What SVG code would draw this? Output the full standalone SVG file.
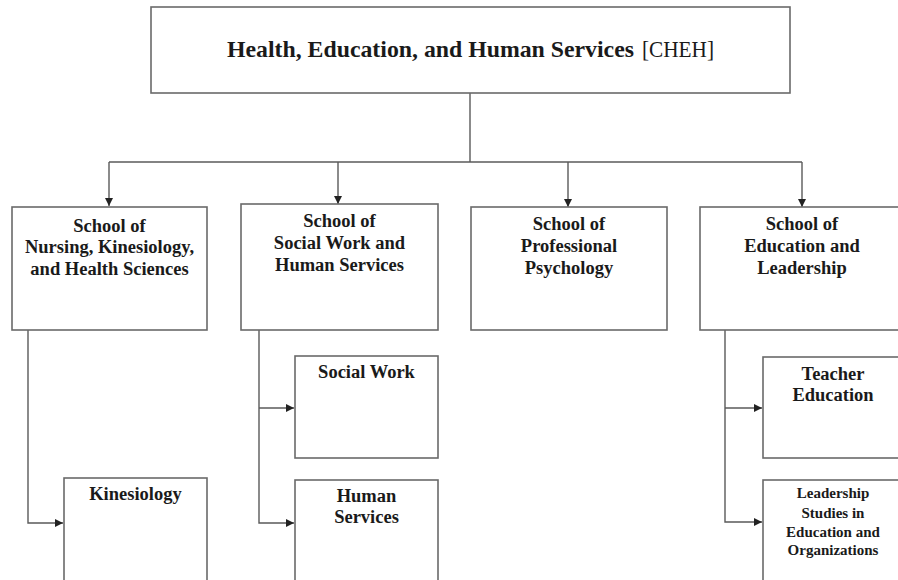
<svg xmlns="http://www.w3.org/2000/svg" width="898" height="580" viewBox="0 0 898 580">
<style>
.box{fill:#fff;stroke:#6a6a6a;stroke-width:1.6}
.ln{fill:none;stroke:#5a5a5a;stroke-width:1.4}
.t{font-family:"Liberation Serif","Times New Roman",serif;font-weight:bold;fill:#1a1a1a;text-anchor:middle}
.s{font-size:18.5px}
.m{font-size:15px}
</style>
<defs>
<marker id="ah" viewBox="0 0 10 10" refX="10" refY="5" markerWidth="8" markerHeight="8" markerUnits="userSpaceOnUse" orient="auto">
<path d="M0,0 L10,5 L0,10 z" fill="#222"/>
</marker>
</defs>
<rect width="898" height="580" fill="#fff"/>
<g id="connectors">
<path class="ln" d="M470,93 V162"/>
<path class="ln" d="M109,162 H802"/>
<path class="ln" d="M109,162 V206" marker-end="url(#ah)"/>
<path class="ln" d="M338,162 V204" marker-end="url(#ah)"/>
<path class="ln" d="M568,162 V207" marker-end="url(#ah)"/>
<path class="ln" d="M802,162 V207" marker-end="url(#ah)"/>
<path class="ln" d="M28,330 V523 H63" marker-end="url(#ah)"/>
<path class="ln" d="M259,330 V523 H294" marker-end="url(#ah)"/>
<path class="ln" d="M259,408 H294" marker-end="url(#ah)"/>
<path class="ln" d="M725,330 V522 H762" marker-end="url(#ah)"/>
<path class="ln" d="M725,408 H762" marker-end="url(#ah)"/>
</g>
<g id="cheh">
<rect class="box" x="151" y="7" width="639" height="86"/>
<text class="t" x="227" y="57" font-size="24" style="text-anchor:start" textLength="407" lengthAdjust="spacingAndGlyphs">Health, Education, and Human Services</text>
<text class="t" x="642" y="57" font-size="24" style="text-anchor:start;font-weight:normal" textLength="72" lengthAdjust="spacingAndGlyphs">[CHEH]</text>
</g>
<g id="school-nursing">
<rect class="box" x="12" y="207" width="195" height="123"/>
<text class="t s" x="109.5" y="232">School of</text>
<text class="t s" x="109.5" y="253">Nursing, Kinesiology,</text>
<text class="t s" x="109.5" y="275">and Health Sciences</text>
</g>
<g id="school-social">
<rect class="box" x="241" y="204" width="197" height="126"/>
<text class="t s" x="339.5" y="227">School of</text>
<text class="t s" x="339.5" y="249">Social Work and</text>
<text class="t s" x="339.5" y="271">Human Services</text>
</g>
<g id="school-psych">
<rect class="box" x="471" y="207" width="196" height="123"/>
<text class="t s" x="569" y="230">School of</text>
<text class="t s" x="569" y="252">Professional</text>
<text class="t s" x="569" y="274">Psychology</text>
</g>
<g id="school-education">
<rect class="box" x="700" y="207" width="210" height="123"/>
<text class="t s" x="802" y="230">School of</text>
<text class="t s" x="802" y="252">Education and</text>
<text class="t s" x="802" y="274">Leadership</text>
</g>
<g id="kinesiology">
<rect class="box" x="64" y="478" width="143" height="120"/>
<text class="t s" x="135.5" y="500">Kinesiology</text>
</g>
<g id="social-work">
<rect class="box" x="295" y="356" width="143" height="102"/>
<text class="t s" x="366.5" y="378">Social Work</text>
</g>
<g id="human-services">
<rect class="box" x="295" y="480" width="143" height="120"/>
<text class="t s" x="366.5" y="502">Human</text>
<text class="t s" x="366.5" y="523">Services</text>
</g>
<g id="teacher-education">
<rect class="box" x="763" y="357" width="150" height="101"/>
<text class="t s" x="833" y="380">Teacher</text>
<text class="t s" x="833" y="401">Education</text>
</g>
<g id="leadership-studies">
<rect class="box" x="763" y="480" width="150" height="120"/>
<text class="t m" x="833" y="498">Leadership</text>
<text class="t m" x="833" y="518">Studies in</text>
<text class="t m" x="833" y="537">Education and</text>
<text class="t m" x="833" y="555">Organizations</text>
</g>
</svg>
